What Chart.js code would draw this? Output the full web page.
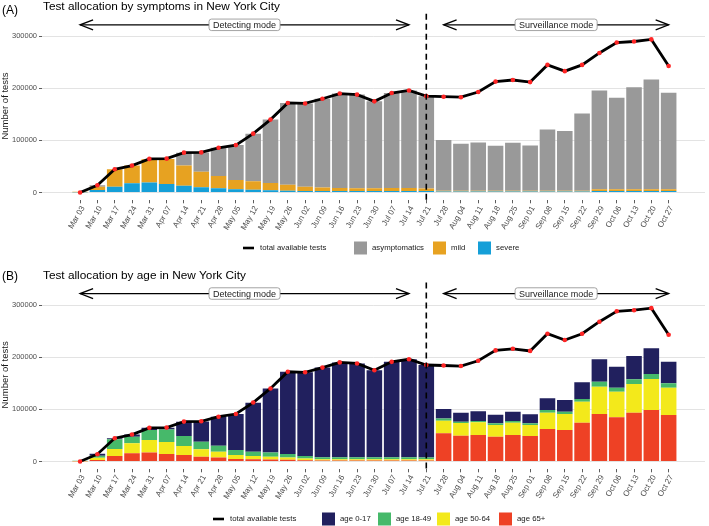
<!DOCTYPE html>
<html><head><meta charset="utf-8">
<script src="https://cdn.jsdelivr.net/npm/chart.js@4.4.1/dist/chart.umd.min.js"></script>
<style>
html,body{margin:0;padding:0;background:#fff;}
#wrap{position:relative;width:709px;height:526px;}
canvas{position:absolute;left:0;}
#c1{top:0;} #c2{top:263px;}
</style></head><body>
<div id="wrap"><canvas id="c1" width="709" height="263"></canvas><canvas id="c2" width="709" height="263"></canvas></div>
<script>
// ---------- data ----------
const categories = ['Mar 03','Mar 10','Mar 17','Mar 24','Mar 31','Apr 07','Apr 14','Apr 21','Apr 28','May 05','May 12','May 19','May 26','Jun 02','Jun 09','Jun 16','Jun 23','Jun 30','Jul 07','Jul 14','Jul 21','Jul 28','Aug 04','Aug 11','Aug 18','Aug 25','Sep 01','Sep 08','Sep 15','Sep 22','Sep 29','Oct 06','Oct 13','Oct 20','Oct 27'];
const yTickValues = [0, 100000, 200000, 300000];

// total available tests (thousands)
const totalTests = [0,14,44.6,51.6,64.5,65,76.5,77,85.8,91,113,140,172,171,180,190,188,175,191,196,185,184,183,193,213,216,212,245,233,245,268,288,290,294,243];

// panel A (thousands)
const severe = [0.3,5,11,17.6,19,16.3,13,10,8,6,5.4,4.3,3.5,3,3,3,3,3,3,3,3,2,2,2,2,2,2,2,2,2,3,3,3,3,3];
const mild = [1,6,33.6,34,45,48,38.6,30,23.7,18,16,14,11.5,8,6.5,5.5,5,5,5.5,5.5,4.5,1.5,1.5,1.5,1.5,1.5,1.5,1.5,1.5,1.5,3,3,3,3,3];
const asymptomatics = [0,3,0,0,0,0,24.9,37,54.1,67,91.6,121.7,157,160,170.5,181.5,180,167,182.5,187.5,177.5,97.1,90.1,92.7,86.3,92,86.9,117.5,114.5,148.3,190,175.8,196,211,185.4];

// panel B (thousands)
const age0_17 = [0,4,2,4,4.4,3.5,27.4,38.6,55.6,69,94,123,157.6,160.5,172,182,180,167,183,188,177.5,18,17.3,18.6,16.6,17.9,17.3,22.3,22.5,32,43,40.3,44.4,49.3,41.5];
const age18_49 = [0.3,4,18.5,12.5,19.4,24,19.2,14.7,11.5,9.5,8.3,7.7,7,5,3.5,3.5,3.5,3.5,3.5,3.5,3,4.5,2.5,2.6,3.2,3.2,3.2,5.1,4.5,5.2,9.6,7.7,9,9.6,8.4];
const age50_64 = [0.7,4,13.5,19.5,24,23,17.2,14,11.4,7.7,6,5.3,3.9,3,2.5,2.5,2.5,2.5,2.5,2.5,2.5,24,24.3,24.2,22.4,23.6,21,31.3,30.6,40.2,52.4,49.1,55,59.4,52.4];
const age65plus = [0.3,3,10.5,15.6,17,14.4,12.5,9.3,7.4,4.8,4.5,4,3.5,2.5,2,2,2,2,2,2,2,54,49.5,50.8,47.6,50.8,48.9,62.3,60.4,74.4,91,84.7,93.6,98.7,89.1];

// annotation anchors (category indices)
const detectStart = 0, detectEnd = 19, switchIdx = 20, survStart = 21, survEnd = 34;
const arrowValue = 322000;

// ---------- styling ----------
const FONT = '"Liberation Sans", Arial, Helvetica, sans-serif';
const K = 1000;
const pts = arr => arr.map((v, i) => ({x: i, y: v * K}));

function barDs(label, arr, color) {
  return {type:'bar', label, data: pts(arr), backgroundColor: color, borderWidth: 0,
    stack: 'bars', barPercentage: 0.9, categoryPercentage: 1, order: 2};
}
function lineDs() {
  return {type:'line', label:'total available tests', data: pts(totalTests), borderColor:'#000',
    borderWidth: 2.8, pointRadius: 2.3, pointBackgroundColor:'#ff2626', pointBorderWidth: 0,
    stack:'line', order: 0, tension: 0};
}

function roundRect(ctx, x, y, w, h, r) {
  ctx.beginPath();
  ctx.moveTo(x + r, y); ctx.lineTo(x + w - r, y); ctx.quadraticCurveTo(x + w, y, x + w, y + r);
  ctx.lineTo(x + w, y + h - r); ctx.quadraticCurveTo(x + w, y + h, x + w - r, y + h);
  ctx.lineTo(x + r, y + h); ctx.quadraticCurveTo(x, y + h, x, y + h - r);
  ctx.lineTo(x, y + r); ctx.quadraticCurveTo(x, y, x + r, y); ctx.closePath();
}

function makePlugin(cfg) {
  return {
    id: 'decor',
    afterDatasetsDraw(chart) {
      const ctx = chart.ctx, xs = chart.scales.x, ys = chart.scales.y;
      const yA = ys.getPixelForValue(arrowValue);
      ctx.save();
      ctx.strokeStyle = '#000'; ctx.lineWidth = 1.3; ctx.lineCap = 'butt';
      const arrow = (a, b) => {
        const xa = xs.getPixelForValue(a), xb = xs.getPixelForValue(b);
        ctx.beginPath(); ctx.moveTo(xa, yA); ctx.lineTo(xb, yA); ctx.stroke();
        ctx.beginPath(); ctx.moveTo(xa + 13, yA - 5); ctx.lineTo(xa, yA); ctx.lineTo(xa + 13, yA + 5); ctx.stroke();
        ctx.beginPath(); ctx.moveTo(xb - 13, yA - 5); ctx.lineTo(xb, yA); ctx.lineTo(xb - 13, yA + 5); ctx.stroke();
        return (xa + xb) / 2;
      };
      const c1 = arrow(detectStart, detectEnd);
      const c2 = arrow(survStart, survEnd);
      // dashed switch line
      const xd = xs.getPixelForValue(switchIdx);
      ctx.setLineDash([6, 4]); ctx.lineWidth = 1.6;
      ctx.beginPath(); ctx.moveTo(xd, yA - 11); ctx.lineTo(xd, chart.chartArea.bottom + 2); ctx.stroke();
      ctx.setLineDash([]);
      // labels
      ctx.font = '9px ' + FONT; ctx.textBaseline = 'middle'; ctx.textAlign = 'center';
      [[c1, 'Detecting mode'], [c2, 'Surveillance mode']].forEach(([cx, t]) => {
        const w = ctx.measureText(t).width + 8, h = 11.5;
        roundRect(ctx, cx - w / 2, yA - h / 2, w, h, 2.5);
        ctx.fillStyle = '#fff'; ctx.fill();
        ctx.strokeStyle = '#8c8c8c'; ctx.lineWidth = 0.8; ctx.stroke();
        ctx.fillStyle = '#222'; ctx.fillText(t, cx, yA + 0.5);
      });
      ctx.restore();
    },
    afterDraw(chart) {
      const ctx = chart.ctx;
      ctx.save();
      ctx.fillStyle = '#000'; ctx.textBaseline = 'alphabetic'; ctx.textAlign = 'left';
      ctx.font = '12px ' + FONT; ctx.fillText(cfg.tag, 2, cfg.tagY);
      ctx.font = '11.8px ' + FONT; ctx.fillText(cfg.title, 43, cfg.titleY);
      // legend
      ctx.font = '7.8px ' + FONT; ctx.textBaseline = 'middle';
      const ly = cfg.legendY;
      cfg.legend.forEach(it => {
        const ds = chart.data.datasets.find(d => d.label === it.label);
        if (it.kind === 'line') {
          ctx.strokeStyle = ds.borderColor; ctx.lineWidth = 2.6;
          ctx.beginPath(); ctx.moveTo(it.x, ly); ctx.lineTo(it.x + 11, ly); ctx.stroke();
          ctx.fillStyle = '#1a1a1a'; ctx.fillText(it.label, it.x + 17, ly);
        } else {
          ctx.fillStyle = ds.backgroundColor; ctx.fillRect(it.x, ly - 6.5, 13, 13);
          ctx.fillStyle = '#1a1a1a'; ctx.fillText(it.label, it.x + 18, ly);
        }
      });
      ctx.restore();
    }
  };
}

function makeChart(id, datasets, cfg) {
  return new Chart(document.getElementById(id), {
    type: 'bar',
    data: {datasets},
    plugins: [makePlugin(cfg)],
    options: {
      responsive: false, animation: false, events: [],
      layout: {padding: {top: cfg.padTop, right: 4, bottom: cfg.padBottom, left: 0}},
      plugins: {legend: {display: false}, tooltip: {enabled: false}},
      scales: {
        x: {
          type: 'linear', min: -2.2, max: 36.1, offset: false,
          grid: {drawOnChartArea: false, offset: false, tickLength: 3, tickColor: '#333', tickWidth: 0.8},
          border: {display: false},
          ticks: {autoSkip: false, minRotation: 60, maxRotation: 60, padding: 1, labelOffset: 3, color: '#4d4d4d',
            font: {family: FONT, size: 8}, callback: v => categories[v] ?? ''},
          afterBuildTicks: s => { s.ticks = categories.map((_, i) => ({value: i})); },
          afterFit: s => { s.height = 40; s.paddingLeft = 0; s.paddingRight = 0; }
        },
        y: {
          min: -15000, max: 347000, stacked: true,
          grid: {color: '#dcdcdc', lineWidth: 0.8, tickLength: 3, tickColor: '#333', tickWidth: 0.8},
          border: {display: false},
          ticks: {color: '#4d4d4d', padding: 2, font: {family: FONT, size: 7.5}, callback: v => String(v)},
          afterBuildTicks: s => { s.ticks = yTickValues.map(v => ({value: v})); },
          title: {display: true, text: 'Number of tests', color: '#1a1a1a',
            font: {family: FONT, size: 9.5}, padding: {top: 0, bottom: 0}},
          afterFit: s => { s.width = 42; }
        }
      }
    }
  });
}

makeChart('c1', [
  lineDs(),
  barDs('severe', severe, '#159fd8'),
  barDs('mild', mild, '#e7a221'),
  barDs('asymptomatics', asymptomatics, '#999999')
], {
  tag: '(A)', tagY: 14, title: 'Test allocation by symptoms in New York City', titleY: 10,
  padTop: 11.8, padBottom: 22.7, legendY: 248,
  legend: [
    {kind: 'line', label: 'total available tests', x: 243},
    {kind: 'box', label: 'asymptomatics', x: 354},
    {kind: 'box', label: 'mild', x: 433},
    {kind: 'box', label: 'severe', x: 478}
  ]
});

makeChart('c2', [
  lineDs(),
  barDs('age 65+', age65plus, '#ee4125'),
  barDs('age 50-64', age50_64, '#f3e91b'),
  barDs('age 18-49', age18_49, '#46b96a'),
  barDs('age 0-17', age0_17, '#21205e')
], {
  tag: '(B)', tagY: 17, title: 'Test allocation by age in New York City', titleY: 16,
  padTop: 17.5, padBottom: 16.7, legendY: 256,
  legend: [
    {kind: 'line', label: 'total available tests', x: 213},
    {kind: 'box', label: 'age 0-17', x: 322},
    {kind: 'box', label: 'age 18-49', x: 378},
    {kind: 'box', label: 'age 50-64', x: 437},
    {kind: 'box', label: 'age 65+', x: 499}
  ]
});
</script>
</body></html>
